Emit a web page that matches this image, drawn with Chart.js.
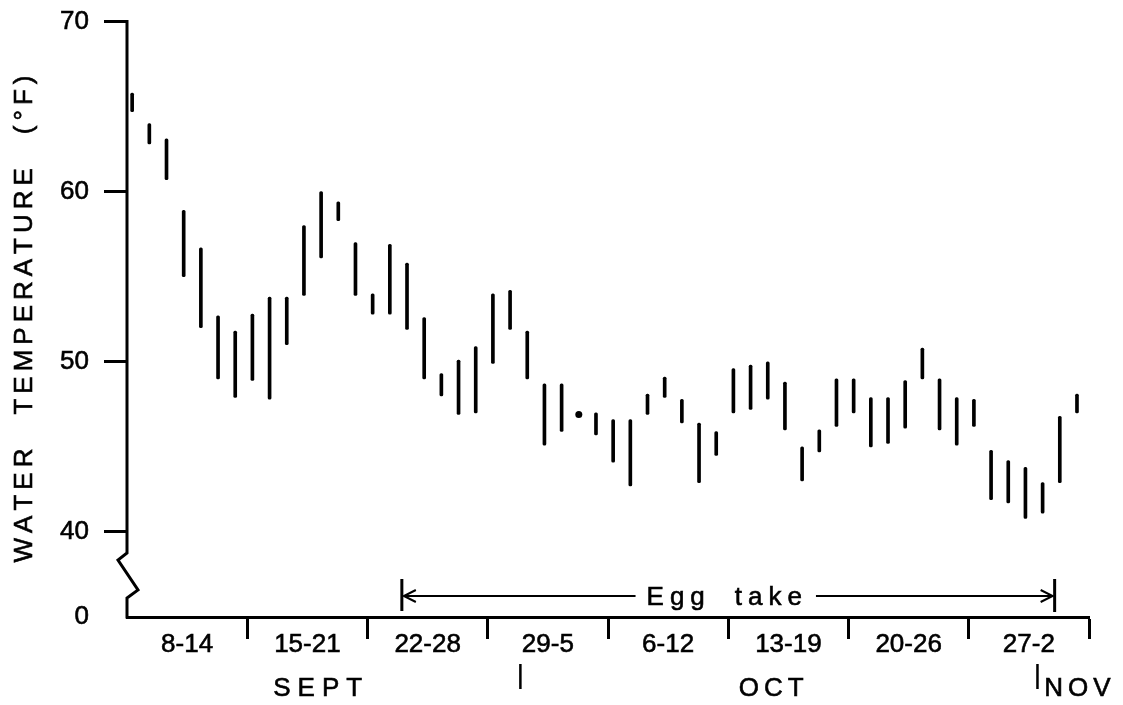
<!DOCTYPE html>
<html>
<head>
<meta charset="utf-8">
<title>Water temperature</title>
<script src="https://cdn.jsdelivr.net/npm/chart.js@4.4.1/dist/chart.umd.min.js"></script>
<style>
  html, body { margin: 0; padding: 0; background: #fff; }
</style>
</head>
<body>
<canvas id="tempChart" width="1123" height="705"></canvas>
<script>
// Daily water temperature range (°F). Days are counted from 1 Sept (Oct 1 = 31, Nov 1 = 62).
const days = [8, 9, 10, 11, 12, 13, 14, 15, 16, 17, 18, 19, 20, 21, 22, 23, 24, 25, 26, 27,
              28, 29, 30, 31, 32, 33, 34, 35, 36, 37, 38, 39, 40, 41, 42, 43, 44, 45, 46, 47,
              48, 49, 50, 51, 52, 53, 54, 55, 56, 57, 58, 59, 60, 61, 62, 63];
const lowTemps = [64.7, 62.8, 60.7, 55.0, 52.0, 49.0, 47.9, 48.9, 47.8, 51.0,
                  53.9, 56.1, 58.3, 53.9, 52.8, 52.8, 51.9, 49.0, 48.0, 46.9,
                  47.0, 49.9, 51.9, 49.0, 45.1, 45.9, 46.9, 45.7, 44.1, 42.7,
                  46.9, 47.9, 46.4, 42.9, 44.5, 47.0, 47.2, 47.8, 46.0, 43.0,
                  44.7, 46.2, 47.0, 45.0, 45.2, 46.1, 49.0, 46.0, 45.1, 46.2,
                  41.9, 41.7, 40.8, 41.1, 42.9, 47.0];
const highTemps = [65.8, 64.0, 63.1, 58.9, 56.7, 52.7, 51.8, 52.8, 53.8, 53.8,
                   58.0, 60.0, 59.4, 57.0, 54.0, 56.9, 55.8, 52.6, 49.3, 50.1,
                   50.9, 54.0, 54.2, 51.8, 48.7, 48.7, 46.9, 47.0, 46.6, 46.6,
                   48.1, 49.1, 47.8, 46.4, 45.9, 49.6, 49.8, 50.0, 48.8, 45.0,
                   46.0, 49.0, 49.0, 47.9, 47.9, 48.9, 50.8, 49.0, 47.9, 47.8,
                   44.8, 44.2, 43.8, 42.9, 46.8, 48.1];

const weekStarts = [8, 15, 22, 29, 36, 43, 50, 57];
const weekLabels = ['8-14', '15-21', '22-28', '29-5', '6-12', '13-19', '20-26', '27-2'];

// 35 stands in for the broken-off bottom of the axis, labelled 0
const yTickValues = [35, 40, 50, 60, 70];
const yTickLabels = ['0', '40', '50', '60', '70'];

const monthNames = ['SEPT', 'OCT', 'NOV'];
const monthLabelDays = [18.8, 45.2, 61.1];
const monthBreakDays = [30.6, 60.7];
const eggTakeDays = [23.7, 61.7];

const FONT = "'Liberation Sans', Arial, Helvetica, sans-serif";
const INK = 0.6; // slight stroke on lettering to give the printed weight
const slot = 0.3; // each daily bar sits a little past the start of its day

// bars for days with a range, dots for days with a single reading
const rangeData = [];
const dotData = [];
days.forEach((d, i) => {
    if (highTemps[i] > lowTemps[i]) {
        rangeData.push({ x: d, y: [lowTemps[i], highTemps[i]] });
    } else {
        dotData.push({ x: d, y: highTemps[i] });
    }
});

// week boundaries get a tick mark, week centres get the label
const xTicks = [];
weekStarts.forEach((s, i) => {
    xTicks.push({ value: s - slot + 3.5, label: weekLabels[i], mark: false });
    xTicks.push({ value: s - slot + 7, label: '', mark: true });
});

function spacedText(ctx, text, x, y, gap, spaceWidth, align) {
    const chars = [...text];
    const widths = chars.map(c => c === ' ' ? spaceWidth : ctx.measureText(c).width);
    const total = widths.reduce((a, b) => a + b, 0) + gap * (chars.length - 1);
    let cx = align === 'center' ? x - total / 2 : (align === 'right' ? x - total : x);
    ctx.textAlign = 'left';
    chars.forEach((c, i) => {
        if (c !== ' ') {
            ctx.fillText(c, cx, y);
            ctx.strokeText(c, cx, y);
        }
        cx += widths[i] + gap;
    });
    return total;
}

const decorations = {
    id: 'decorations',
    afterDraw(chart) {
        const { ctx, chartArea, scales: { x } } = chart;
        const left = chartArea.left, bottom = chartArea.bottom, top = chartArea.top;
        ctx.save();
        ctx.strokeStyle = '#000';
        ctx.fillStyle = '#000';
        ctx.lineWidth = 3;
        ctx.lineJoin = 'miter';

        // vertical axis with the zig-zag break
        ctx.beginPath();
        ctx.moveTo(left, top - 1.5);
        ctx.lineTo(left, bottom - 64);
        ctx.lineTo(left - 9, bottom - 57);
        ctx.lineTo(left + 11, bottom - 27);
        ctx.lineTo(left, bottom - 19);
        ctx.lineTo(left, bottom + 1.5);
        ctx.stroke();

        // axis title
        ctx.font = '26px ' + FONT;
        ctx.textBaseline = 'middle';
        ctx.lineWidth = INK;
        ctx.save();
        ctx.translate(25, 319);
        ctx.rotate(-Math.PI / 2);
        spacedText(ctx, 'WATER TEMPERATURE (°F)', 0, 0, 5, 24, 'center');
        ctx.restore();

        // egg take period
        const x0 = x.getPixelForValue(eggTakeDays[0]);
        const x1 = x.getPixelForValue(eggTakeDays[1]);
        const ay = bottom - 21;
        ctx.lineWidth = 3;
        ctx.beginPath();
        ctx.moveTo(x0, bottom - 38); ctx.lineTo(x0, bottom - 6);
        ctx.moveTo(x1, bottom - 38); ctx.lineTo(x1, bottom - 5);
        ctx.stroke();

        ctx.textBaseline = 'alphabetic';
        ctx.lineWidth = INK;
        const mid = (x0 + x1) / 2 - 4;
        const w = spacedText(ctx, 'Egg take', mid, bottom - 12, 6, 18, 'center');
        ctx.lineWidth = 2;
        ctx.beginPath();
        ctx.moveTo(x0 + 2, ay); ctx.lineTo(mid - w / 2 - 11, ay);
        ctx.moveTo(mid + w / 2 + 14, ay); ctx.lineTo(x1 - 2, ay);
        // arrow heads
        ctx.moveTo(x0 + 14, ay - 6); ctx.lineTo(x0 + 2, ay); ctx.lineTo(x0 + 14, ay + 6);
        ctx.moveTo(x1 - 14, ay - 6); ctx.lineTo(x1 - 2, ay); ctx.lineTo(x1 - 14, ay + 6);
        ctx.stroke();

        // month names and month dividers
        ctx.lineWidth = INK;
        monthNames.forEach((m, i) => {
            const px = x.getPixelForValue(monthLabelDays[i]);
            spacedText(ctx, m, px, bottom + 79, i === 0 ? 7 : 5, 0, i === 2 ? 'left' : 'center');
        });
        ctx.lineWidth = 2.5;
        ctx.beginPath();
        monthBreakDays.forEach(d => {
            const px = x.getPixelForValue(d);
            ctx.moveTo(px, bottom + 47);
            ctx.lineTo(px, bottom + 72);
        });
        ctx.stroke();
        ctx.restore();
    }
};

new Chart(document.getElementById('tempChart'), {
    type: 'bar',
    data: {
        datasets: [{
            type: 'bar',
            data: rangeData,
            backgroundColor: '#000',
            barThickness: 3,
            borderRadius: 1.5,
            borderSkipped: false
        }, {
            type: 'scatter',
            data: dotData,
            pointRadius: 3.5,
            pointBackgroundColor: '#000',
            pointBorderWidth: 0
        }]
    },
    options: {
        responsive: false,
        animation: false,
        devicePixelRatio: 1,
        layout: { padding: { top: 21.5, right: 34, bottom: 0, left: 0 } },
        plugins: {
            legend: { display: false },
            tooltip: { enabled: false }
        },
        scales: {
            x: {
                type: 'linear',
                min: weekStarts[0] - slot,
                max: weekStarts[weekStarts.length - 1] - slot + 7,
                offset: false,
                afterBuildTicks: s => { s.ticks = xTicks.map(t => ({ value: t.value })); },
                afterFit: s => { s.height = 88; s.paddingLeft = 0; s.paddingRight = 0; },
                ticks: {
                    autoSkip: false,
                    maxRotation: 0,
                    padding: -10,
                    color: '#000',
                    textStrokeColor: '#000',
                    textStrokeWidth: INK,
                    font: { family: FONT, size: 26 },
                    callback: (v, i) => xTicks[i] ? xTicks[i].label : ''
                },
                grid: {
                    offset: false,
                    drawOnChartArea: false,
                    tickLength: 22,
                    tickWidth: 3,
                    tickColor: c => (xTicks[c.index] && xTicks[c.index].mark) ? '#000' : 'rgba(0,0,0,0)'
                },
                border: { display: true, color: '#000', width: 3 }
            },
            y: {
                type: 'linear',
                min: yTickValues[0],
                max: yTickValues[yTickValues.length - 1],
                afterBuildTicks: s => { s.ticks = yTickValues.map(v => ({ value: v })); },
                afterFit: s => { s.width = 127; s.paddingTop = 0; s.paddingBottom = 0; },
                ticks: {
                    padding: 15,
                    color: '#000',
                    textStrokeColor: '#000',
                    textStrokeWidth: INK,
                    font: { family: FONT, size: 26 },
                    callback: (v, i) => yTickLabels[i]
                },
                grid: {
                    drawOnChartArea: false,
                    tickLength: 23,
                    tickWidth: 3,
                    tickColor: c => c.index === 0 ? 'rgba(0,0,0,0)' : '#000'
                },
                border: { display: false }
            }
        }
    },
    plugins: [decorations]
});
</script>
</body>
</html>
